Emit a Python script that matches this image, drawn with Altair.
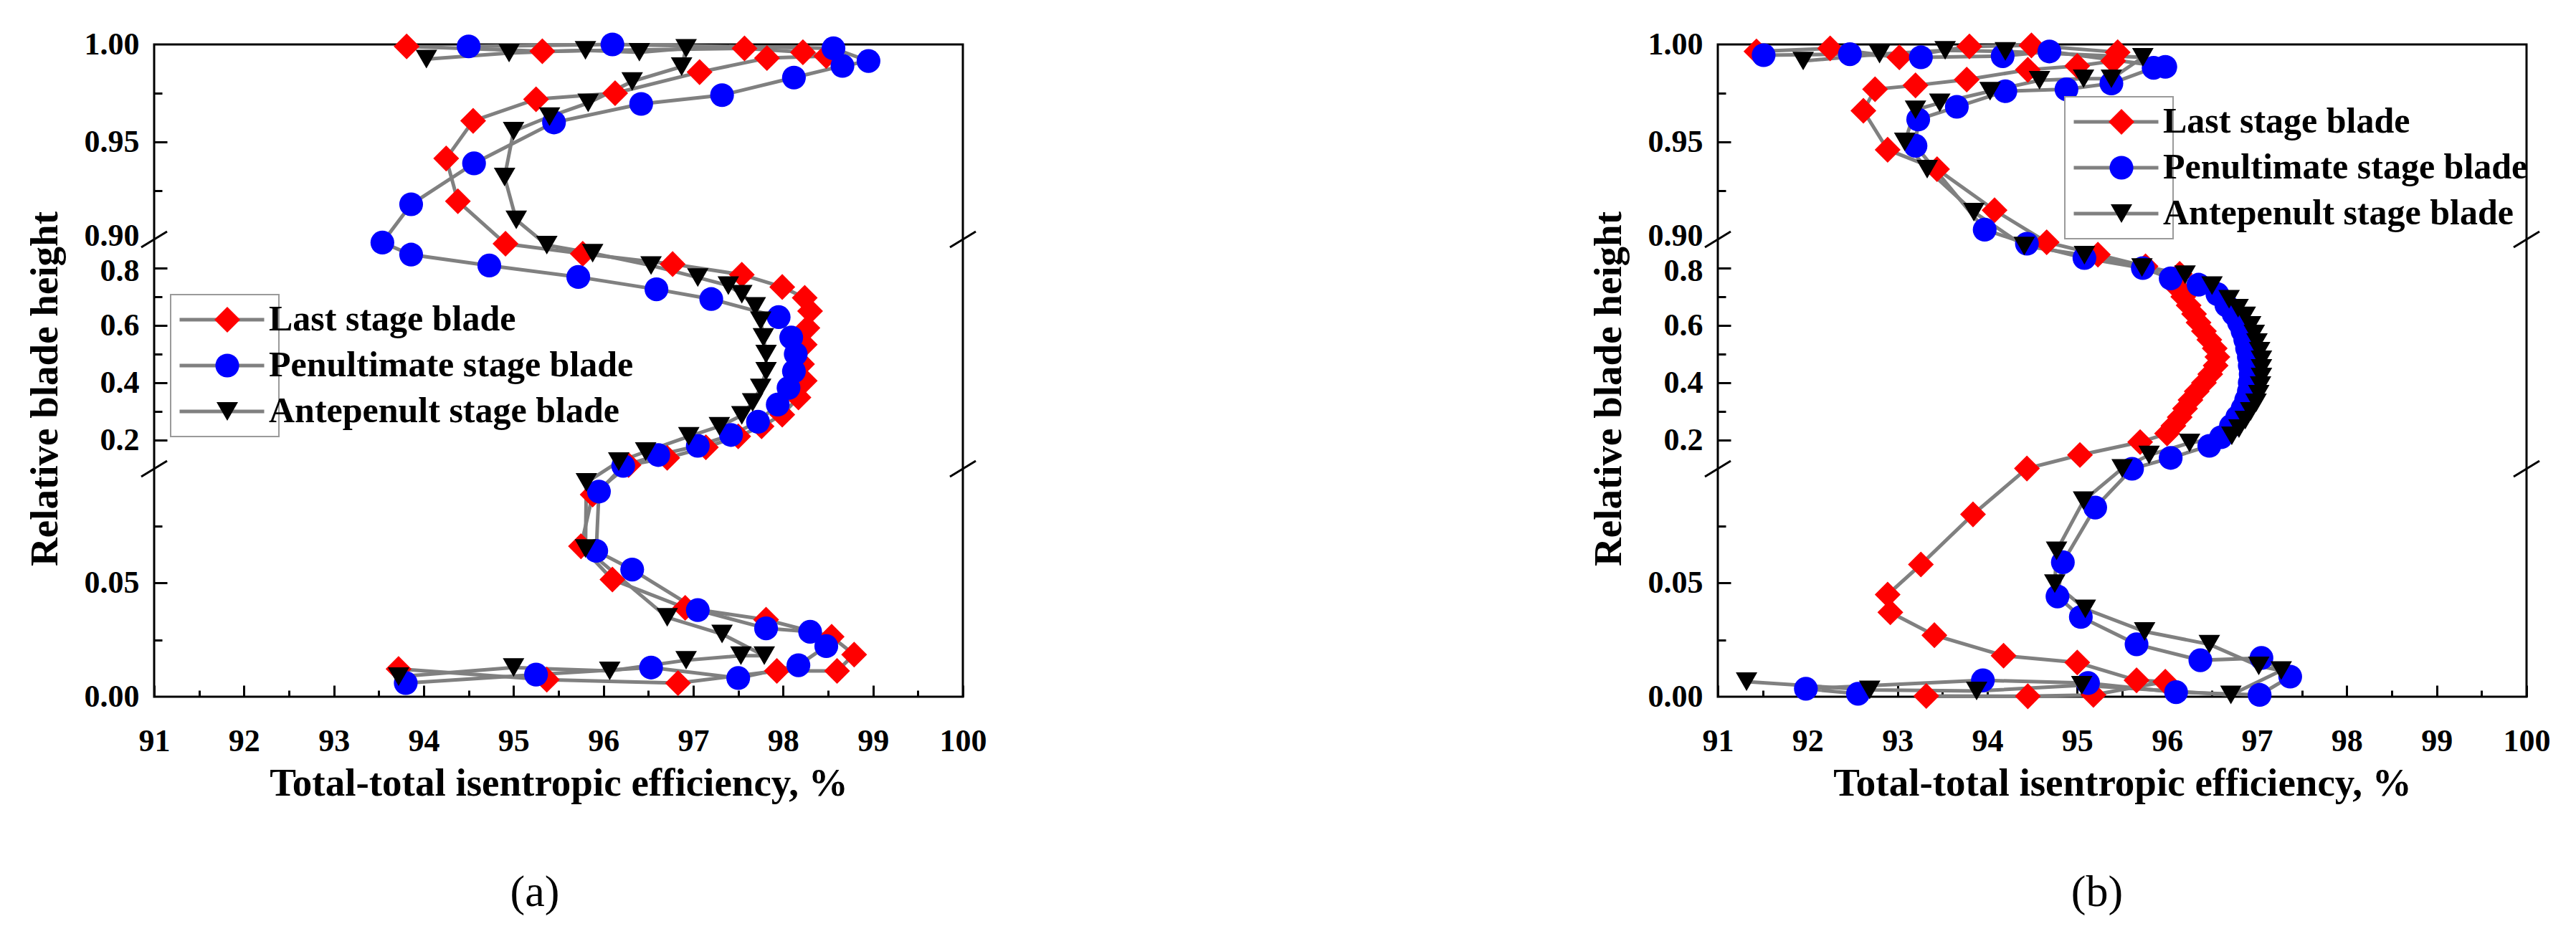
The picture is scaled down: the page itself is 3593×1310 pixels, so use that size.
import altair as alt
import pandas as pd

SERIES = ["Last stage blade", "Penultimate stage blade", "Antepenult stage blade"]
COLORS = ["#ff0000", "#0000ff", "#000000"]
SHAPES = ["diamond", "circle", "triangle-down"]
SIZES = [1300, 900, 1000]
LINE_GRAY = "#808080"

X_TICKS = [91, 92, 93, 94, 95, 96, 97, 98, 99, 100]
X_MINOR = [91.5, 92.5, 93.5, 94.5, 95.5, 96.5, 97.5, 98.5, 99.5]
Y_TICKS = [0.0, 0.05, 0.2, 0.4, 0.6, 0.8, 0.9, 0.95, 1.0]
Y_MAJOR_INNER = [0.05, 0.2, 0.4, 0.6, 0.8, 0.95]
Y_MINOR = [0.025, 0.075, 0.3, 0.5, 0.7, 0.925, 0.975]
Y_DOMAIN = [0.0, 0.1, 0.9, 1.0]
BREAKS = [0.1, 0.9]
EDGES = [91, 100]

# ---------------- panel (a) ----------------
A_LAST_EFF = [93.72, 95.37, 96.83, 97.93, 98.60, 98.79, 98.54, 97.81, 96.91, 96.10,
              95.75, 95.88, 96.28, 96.71, 97.14, 97.50, 97.76, 97.99, 98.17, 98.24,
              98.21, 98.24, 98.27, 98.30, 98.24, 97.99, 97.54, 96.77, 95.77, 94.91,
              94.38, 94.25, 94.55, 95.25, 96.13, 97.07, 97.82, 98.48, 98.22, 97.57,
              95.32, 93.81]
A_LAST_H = [0.0122, 0.0075, 0.0060, 0.0113, 0.0113, 0.0185, 0.0263, 0.0338, 0.0390, 0.0514,
            0.0660, 0.0887, 0.113, 0.138, 0.175, 0.213, 0.248, 0.289, 0.349, 0.407,
            0.465, 0.533, 0.591, 0.650, 0.696, 0.734, 0.777, 0.814, 0.850, 0.885,
            0.9196, 0.9415, 0.9608, 0.9719, 0.975, 0.9858, 0.993, 0.994, 0.996, 0.998,
            0.9965, 0.999]

A_PEN_EFF = [93.80, 95.25, 96.53, 97.50, 98.17, 98.48, 98.30, 97.81, 97.05, 96.32,
             95.92, 95.95, 96.22, 96.61, 97.05, 97.42, 97.72, 97.94, 98.06, 98.12,
             98.14, 98.09, 97.95, 97.20, 96.59, 95.72, 94.73, 93.86, 93.54, 93.86,
             94.56, 95.45, 96.42, 97.32, 98.12, 98.66, 98.95, 98.56, 96.10, 94.50]
A_PEN_H = [0.0060, 0.0097, 0.0128, 0.0082, 0.0138, 0.0222, 0.0285, 0.0300, 0.0380, 0.0558,
           0.0640, 0.0900, 0.110, 0.148, 0.180, 0.218, 0.264, 0.324, 0.382, 0.440,
           0.500, 0.558, 0.629, 0.692, 0.726, 0.769, 0.809, 0.847, 0.889, 0.918,
           0.939, 0.960, 0.9695, 0.974, 0.983, 0.989, 0.9915, 0.998, 1.0, 0.999]

A_ANTE_EFF = [93.72, 95.00, 96.07, 96.92, 97.53, 97.79, 97.32, 96.71, 95.80, 95.81,
              96.17, 96.47, 96.95, 97.29, 97.54, 97.66, 97.75, 97.81, 97.81, 97.78,
              97.75, 97.69, 97.54, 97.39, 97.05, 96.53, 95.88, 95.37, 95.03, 94.90,
              95.00, 95.40, 95.83, 96.32, 96.87, 96.92, 96.40, 95.80, 94.95, 94.03]
A_ANTE_H = [0.0088, 0.0128, 0.0113, 0.0160, 0.0180, 0.0180, 0.0275, 0.0348, 0.0650, 0.0940,
            0.125, 0.160, 0.213, 0.248, 0.286, 0.331, 0.382, 0.440, 0.500, 0.558,
            0.616, 0.666, 0.709, 0.739, 0.767, 0.809, 0.852, 0.880, 0.910, 0.932,
            0.9555, 0.963, 0.970, 0.981, 0.9886, 0.998, 0.996, 0.997, 0.9956, 0.9925]

# ---------------- panel (b) ----------------
B_LAST_EFF = [93.32, 94.45, 95.18, 95.98, 95.66, 95.00, 94.18, 93.41, 92.92, 92.89,
              93.26, 93.84, 94.44, 95.03, 95.70, 96.00, 96.07, 96.14, 96.20, 96.26,
              96.33, 96.41, 96.48, 96.54, 96.56, 96.53, 96.47, 96.41, 96.35, 96.30,
              96.24, 96.18, 96.12, 96.14, 95.76, 95.23, 94.66, 94.08, 93.44, 92.89,
              92.62, 92.75, 93.20, 93.77, 94.45, 95.00, 95.40, 95.45, 94.49, 93.80,
              93.02, 92.25, 91.43]
B_LAST_H = [0.0003, 0.0002, 0.0008, 0.0066, 0.0072, 0.0150, 0.0180, 0.0270, 0.0370, 0.0448,
            0.0580, 0.0800, 0.1010, 0.148, 0.193, 0.223, 0.25, 0.28, 0.31, 0.34,
            0.37, 0.40, 0.43, 0.46, 0.49, 0.52, 0.55, 0.58, 0.61, 0.64,
            0.67, 0.70, 0.73, 0.78, 0.806, 0.847, 0.890, 0.915, 0.936, 0.946,
            0.966, 0.977, 0.979, 0.982, 0.987, 0.989, 0.9915, 0.996, 0.9995, 0.999,
            0.9934, 0.998, 0.9964]

B_PEN_EFF = [92.56, 91.98, 93.95, 95.12, 96.10, 97.03, 97.37, 97.05, 96.37, 95.66,
             95.04, 94.78, 94.84, 95.20, 95.61, 96.04, 96.47, 96.60, 96.71, 96.78,
             96.84, 96.88, 96.91, 96.92, 96.93, 96.92, 96.91, 96.89, 96.87, 96.84,
             96.80, 96.74, 96.66, 96.56, 96.35, 96.04, 95.73, 95.08, 94.44, 93.97,
             93.20, 93.23, 93.66, 94.20, 94.88, 95.38, 95.85, 95.98, 94.69, 94.17,
             93.26, 92.47, 91.51]
B_PEN_H = [0.0013, 0.0035, 0.0072, 0.0060, 0.0020, 0.0008, 0.0088, 0.0170, 0.0160, 0.0230,
           0.0350, 0.0440, 0.0590, 0.0830, 0.1000, 0.138, 0.180, 0.210, 0.249, 0.28,
           0.31, 0.34, 0.37, 0.40, 0.43, 0.46, 0.49, 0.52, 0.55, 0.58,
           0.61, 0.64, 0.67, 0.709, 0.742, 0.764, 0.800, 0.835, 0.885, 0.905,
           0.948, 0.9615, 0.968, 0.976, 0.977, 0.980, 0.988, 0.9885, 0.9964, 0.994,
           0.9934, 0.995, 0.9945]

B_ANTE_EFF = [91.32, 92.69, 93.88, 95.05, 96.71, 97.27, 97.02, 96.47, 95.75, 95.09,
              94.75, 94.77, 95.07, 95.50, 95.80, 96.25, 96.72, 96.80, 96.87, 96.93,
              96.99, 97.02, 97.04, 97.05, 97.05, 97.05, 97.03, 97.00, 96.97, 96.93,
              96.87, 96.79, 96.69, 96.50, 96.20, 95.72, 95.08, 94.41, 93.85, 93.33,
              93.08, 93.20, 93.47, 94.03, 94.58, 95.07, 95.38, 95.73, 94.20, 93.53,
              92.80, 91.95]
B_ANTE_H = [0.0066, 0.0030, 0.0025, 0.0050, 0.0008, 0.0115, 0.0135, 0.0230, 0.0286, 0.0385,
            0.0496, 0.0640, 0.0860, 0.1010, 0.148, 0.190, 0.215, 0.24, 0.27, 0.30,
            0.33, 0.36, 0.39, 0.42, 0.45, 0.48, 0.51, 0.54, 0.57, 0.60,
            0.633, 0.66, 0.691, 0.739, 0.777, 0.802, 0.845, 0.877, 0.914, 0.936,
            0.950, 0.9665, 0.970, 0.976, 0.9816, 0.9824, 0.9824, 0.9934, 0.9964, 0.997,
            0.995, 0.9915]

# ---------------- layout / style ----------------
W, H = 1128, 910
Y_RANGE = [910, 592, 272, 0]
FONT = "Liberation Serif"
TICK_FS = 44
TITLE_FS = 55
LEG_FS = 50
# line-legend keys get an invisible suffix so that Vega-Lite keeps the line legend
# and the marker legend apart (it merges legends whose domains are identical)
LINE_KEYS = [s + "\u200b" for s in SERIES]
# the line legend only draws the frame and the grey line samples; its labels are blank
# spacers as wide as the visible marker-legend labels
BLANK_LABEL = "\u2003" * 10 + "\u2002"


def make_panel(effs, hs, label, lx, ly, title_dx):
    rows = []
    for s, ls, xs, ys in zip(SERIES, LINE_KEYS, effs, hs):
        for i, (x, y) in enumerate(zip(xs, ys)):
            rows.append({"series": s, "line_series": ls, "eff": x, "h": y, "idx": i})
    df = pd.DataFrame(rows)
    brk = pd.DataFrame([{"e": e, "b": b} for e in EDGES for b in BREAKS])

    xscale = alt.Scale(domain=[91, 100], nice=False, zero=False)
    yscale = alt.Scale(domain=Y_DOMAIN, range=Y_RANGE, nice=False, zero=False)

    x_main = alt.X("eff:Q", scale=xscale, axis=alt.Axis(
        orient="bottom", values=X_TICKS, format="d", ticks=False, tickSize=0,
        domain=False, grid=False, labelFont=FONT, labelFontSize=TICK_FS,
        labelFontWeight="bold", labelColor="black", labelPadding=40,
        labelFlush=False, labelOverlap=False,
        title="Total-total isentropic efficiency, %", titleFont=FONT,
        titleFontSize=TITLE_FS, titleFontWeight="bold", titleColor="black",
        titlePadding=10))
    y_main = alt.Y("h:Q", scale=yscale, axis=alt.Axis(
        orient="left", values=Y_TICKS,
        labelExpr="datum.value < 0.1 || datum.value >= 0.9 ? format(datum.value, '.2f') : format(datum.value, '.1f')",
        labelOffset={"condition": [{"test": "datum.value == 0.9", "value": -5},
                                   {"test": "datum.value == 0.8", "value": 4}],
                     "value": 0},
        ticks=False, tickSize=0, domain=False, grid=False, labelFont=FONT,
        labelFontSize=TICK_FS, labelFontWeight="bold", labelColor="black",
        labelPadding=21, labelFlush=False, labelOverlap=False,
        title="Relative blade height", titleFont=FONT, titleFontSize=TITLE_FS,
        titleFontWeight="bold", titleColor="black", titlePadding=26, titleY=480))

    lines = alt.Chart(df).mark_line(strokeWidth=5).encode(
        x=x_main, y=y_main,
        color=alt.Color("line_series:N",
                        scale=alt.Scale(domain=LINE_KEYS, range=[LINE_GRAY] * 3),
                        legend=alt.Legend(orient="none", legendX=lx, legendY=ly, title=None,
                                          symbolType="stroke", symbolSize=13924,
                                          symbolStrokeWidth=5,
                                          labelExpr="'" + BLANK_LABEL + "'",
                                          labelOpacity=0, labelLimit=2000,
                                          labelFont=FONT, labelFontSize=LEG_FS,
                                          labelFontWeight="bold", labelOffset=8,
                                          padding=10, clipHeight=50, rowPadding=14,
                                          strokeColor="#9a9a9a", fillColor="white")),
        order=alt.Order("idx:Q"),
    )

    leg2 = alt.Legend(orient="none", legendX=lx + 46, legendY=ly + 10, title=None,
                      labelFont=FONT, labelFontSize=LEG_FS, labelFontWeight="bold",
                      labelColor="black", labelOffset=33, labelLimit=2000, padding=0,
                      symbolOffset=8, clipHeight=50, rowPadding=14,
                      symbolStrokeWidth=0, symbolOpacity=1)
    points = alt.Chart(df).mark_point(filled=True, opacity=1, strokeWidth=0).encode(
        x=alt.X("eff:Q", scale=xscale, axis=None),
        y=alt.Y("h:Q", scale=yscale, axis=None),
        fill=alt.Fill("series:N", scale=alt.Scale(domain=SERIES, range=COLORS), legend=leg2),
        shape=alt.Shape("series:N", scale=alt.Scale(domain=SERIES, range=SHAPES), legend=leg2),
        size=alt.Size("series:N", scale=alt.Scale(domain=SERIES, range=SIZES), legend=leg2),
    )

    breaks = alt.Chart(brk).mark_rule(strokeWidth=3, color="black", xOffset=-18,
                                      x2Offset=18, yOffset=11, y2Offset=-11).encode(
        x=alt.X("e:Q", scale=xscale, axis=None), x2=alt.X2("e"),
        y=alt.Y("b:Q", scale=yscale, axis=None), y2=alt.Y2("b"),
    )

    def tick_layer(xvals, yvals, xlen, ylen):
        return alt.Chart(df).mark_point(opacity=0).encode(
            x=alt.X("eff:Q", scale=xscale, axis=alt.Axis(
                orient="top", offset=-H, values=xvals, labels=False, domain=False,
                grid=False, tickSize=xlen, tickWidth=3, tickColor="black", title=None)),
            y=alt.Y("h:Q", scale=yscale, axis=alt.Axis(
                orient="right", offset=-W, values=yvals, labels=False, domain=False,
                grid=False, tickSize=ylen, tickWidth=3, tickColor="black", title=None)),
        )

    major = tick_layer(X_TICKS, Y_MAJOR_INNER, 16, 18)
    minor = tick_layer(X_MINOR, Y_MINOR, 9, 11)

    return alt.layer(lines, points, breaks, major, minor).resolve_axis(
        x="independent", y="independent"
    ).properties(
        width=W, height=H,
        title=alt.TitleParams(label, orient="bottom", anchor="middle", dx=title_dx,
                              offset=95, font=FONT, fontSize=62, fontWeight="normal",
                              color="black"),
    )


panel_a = make_panel([A_LAST_EFF, A_PEN_EFF, A_ANTE_EFF], [A_LAST_H, A_PEN_H, A_ANTE_H],
                     "(a)", 23, 349, -33)
panel_b = make_panel([B_LAST_EFF, B_PEN_EFF, B_ANTE_EFF], [B_LAST_H, B_PEN_H, B_ANTE_H],
                     "(b)", 484, 73, -35)

chart = alt.hconcat(panel_a, panel_b, spacing=1053, bounds="flush").resolve_scale(
    color="independent", fill="independent", shape="independent", size="independent"
).resolve_legend(
    color="independent", fill="independent", shape="independent", size="independent"
).properties(
    padding={"left": 25, "top": 30, "right": 5, "bottom": 5}
).configure_view(stroke="black", strokeWidth=3).configure_legend(strokeWidth=2)

chart.save("out.html", embed_options={"renderer": "svg", "actions": False})
